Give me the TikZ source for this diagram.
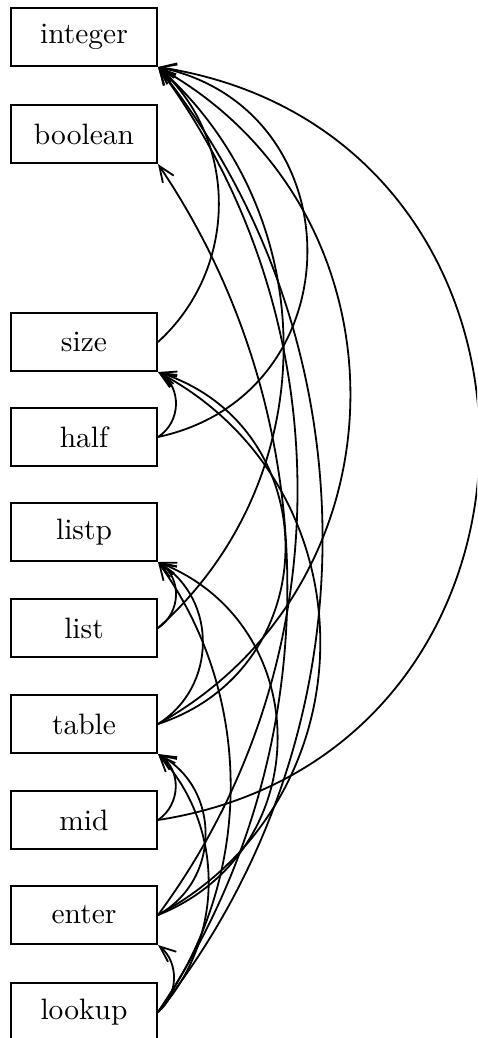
\documentclass[tikz,border=0pt]{standalone}
\usepackage{graphicx}
\usetikzlibrary{arrows.meta}

% boxes for the declared names, and the "uses" arcs between them
\tikzset{
  unit/.style={draw, line width=2pt, minimum width=146pt, minimum height=58pt, inner sep=0pt},
  dep/.style={line width=1.8pt, -{Straight Barb[length=16pt,width=13pt,line width=1.8pt]}},
}
\newcommand{\lbl}[1]{\scalebox{2.95}{#1}}
% arc from the right side of #1 to the lower right corner of #2
\newcommand{\usesarc}[4]{\draw[dep] (#1.east) to[out=#3,in=-#3,looseness=#4] (#2.south east);}

\begin{document}
\begin{tikzpicture}[x=1pt,y=1pt]
\useasboundingbox (0,0) rectangle (477,-1038);
\clip (0,0) rectangle (477,-1038);

\node[unit] (integer) at (84,-37)   {\lbl{integer}};
\node[unit] (boolean) at (84,-134)  {\lbl{boolean}};
\node[unit] (size)    at (84,-342)  {\lbl{size}};
\node[unit] (half)    at (84,-437)  {\lbl{half}};
\node[unit] (listp)   at (84,-532)  {\lbl{listp}};
\node[unit] (list)    at (84,-628)  {\lbl{list}};
\node[unit] (table)   at (84,-724)  {\lbl{table}};
\node[unit] (mid)     at (84,-820)  {\lbl{mid}};
\node[unit] (enter)   at (84,-915)  {\lbl{enter}};
\node[unit] (lookup)  at (84,-1012) {\lbl{lookup}};

\usesarc{size}{integer}{42.3}{1.018}
\usesarc{half}{size}{32.8}{1.104}
\usesarc{half}{integer}{12.1}{1.408}
\usesarc{list}{listp}{33.5}{1.098}
\usesarc{list}{integer}{41.7}{1.023}
\usesarc{table}{listp}{32.2}{1.111}
\usesarc{table}{size}{18.1}{1.299}
\usesarc{table}{integer}{29.2}{1.145}
\usesarc{mid}{table}{34.2}{1.09}
\usesarc{mid}{integer}{8.8}{1.476}
\usesarc{enter}{table}{29}{1.147}
\usesarc{enter}{listp}{21.7}{1.243}
\usesarc{enter}{size}{28.2}{1.157}
\usesarc{enter}{integer}{53.5}{0.944}
\usesarc{lookup}{enter}{39.6}{1.04}
\usesarc{lookup}{table}{47.2}{0.983}
\usesarc{lookup}{listp}{54.2}{0.941}
\usesarc{lookup}{boolean}{56}{0.931}
\usesarc{lookup}{integer}{51.5}{0.955}
\end{tikzpicture}
\end{document}
